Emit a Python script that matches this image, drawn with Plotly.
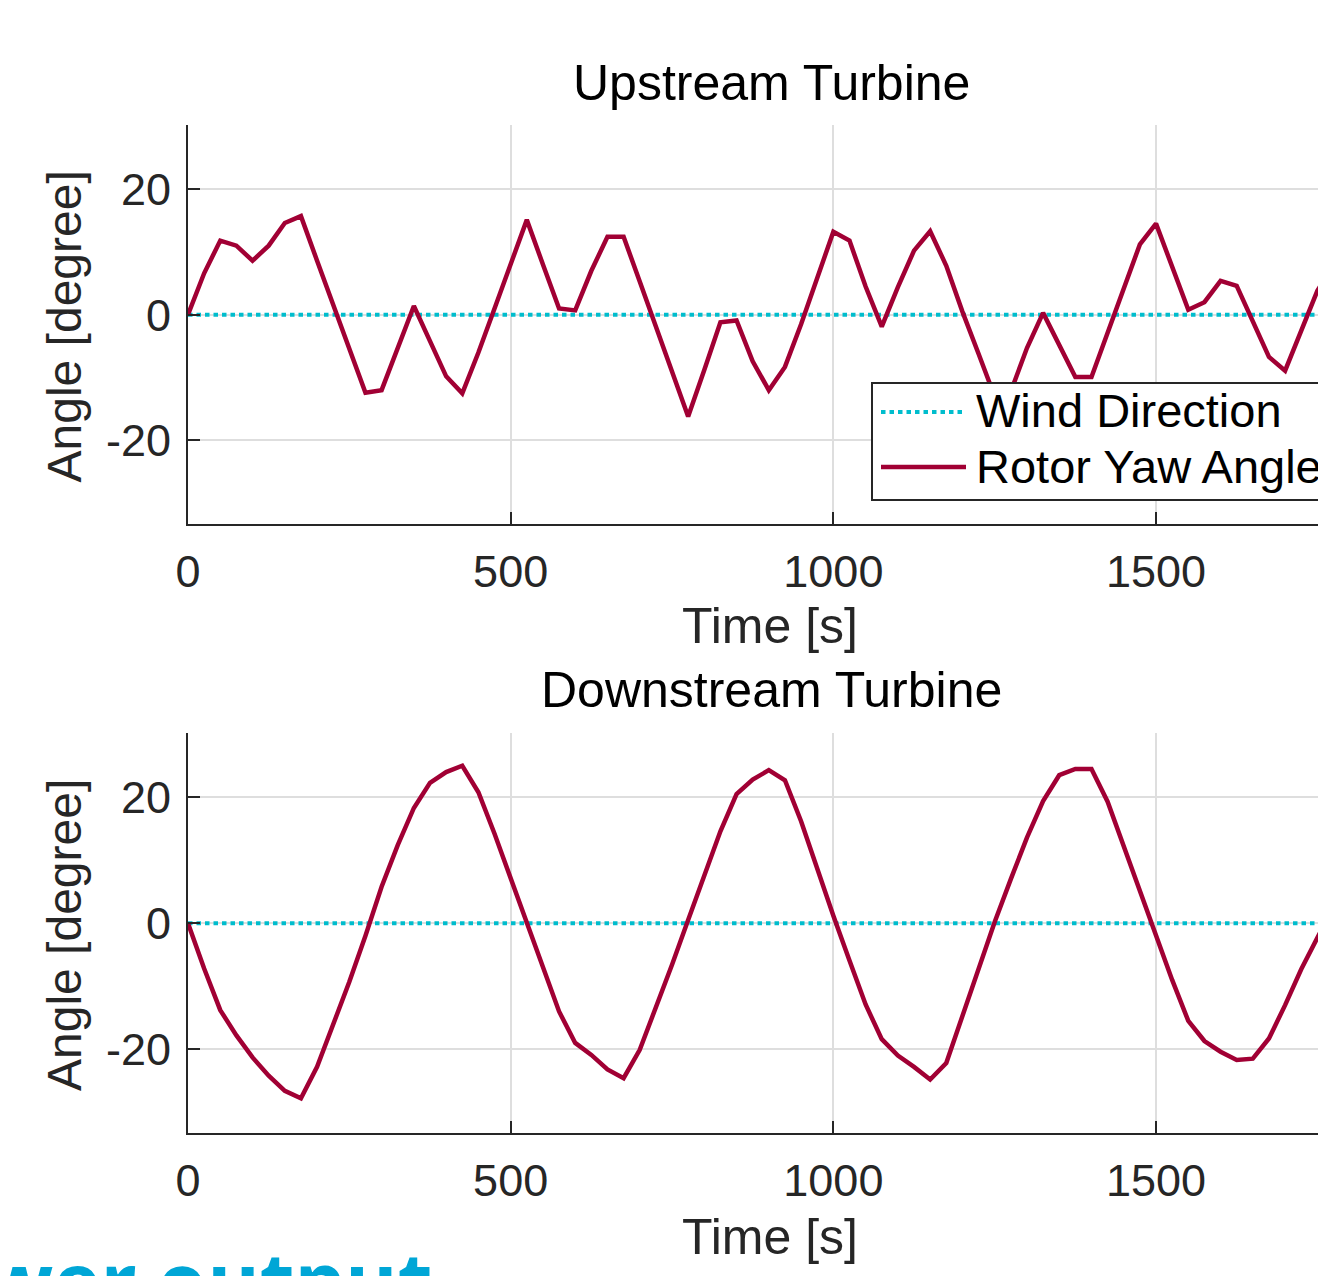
import plotly.graph_objects as go

# ---------------- data ----------------
time_s = [0, 25, 50, 75, 100, 125, 150, 175,
          200, 225, 250, 275, 300, 325, 350, 375,
          400, 425, 450, 475, 500, 525, 550, 575,
          600, 625, 650, 675, 700, 725, 750, 775,
          800, 825, 850, 875, 900, 925, 950, 975,
          1000, 1025, 1050, 1075, 1100, 1125, 1150, 1175,
          1200, 1225, 1250, 1275, 1300, 1325, 1350, 1375,
          1400, 1425, 1450, 1475, 1500, 1525, 1550, 1575,
          1600, 1625, 1650, 1675, 1700, 1725, 1750, 1775]

wind_direction = [0, 0, 0, 0, 0, 0, 0, 0,
                  0, 0, 0, 0, 0, 0, 0, 0,
                  0, 0, 0, 0, 0, 0, 0, 0,
                  0, 0, 0, 0, 0, 0, 0, 0,
                  0, 0, 0, 0, 0, 0, 0, 0,
                  0, 0, 0, 0, 0, 0, 0, 0,
                  0, 0, 0, 0, 0, 0, 0, 0,
                  0, 0, 0, 0, 0, 0, 0, 0,
                  0, 0, 0, 0, 0, 0, 0, 0]

upstream_yaw = [0.0, 6.6, 11.8, 11.0, 8.6, 11.0, 14.6, 15.7,
                8.6, 1.6, -5.4, -12.4, -12.0, -5.4, 1.4, -4.2,
                -9.8, -12.5, -6.0, 1.0, 8.0, 15.1, 8.0, 1.0,
                0.7, 7.0, 12.4, 12.4, 5.3, -1.9, -9.0, -16.2,
                -8.8, -1.2, -0.9, -7.4, -12.0, -8.3, -1.5, 5.8,
                13.2, 11.8, 4.5, -1.9, 4.4, 10.2, 13.3, 7.8,
                0.5, -6.2, -13.0, -12.2, -5.3, 0.3, -5.0, -9.9,
                -9.9, -3.0, 4.1, 11.2, 14.5, 7.8, 0.8, 2.0,
                5.4, 4.6, -0.9, -6.7, -8.9, -2.5, 3.8, 8.0]

downstream_yaw = [0.0, -7.2, -13.8, -17.8, -21.3, -24.2, -26.6, -27.8,
                  -22.8, -16.2, -9.3, -2.0, 5.8, 12.4, 18.3, 22.3,
                  24.0, 25.0, 20.8, 14.2, 7.2, 0.2, -6.9, -14.0,
                  -19.0, -20.9, -23.2, -24.6, -20.1, -13.4, -6.6, 0.5,
                  7.6, 14.6, 20.5, 22.8, 24.3, 22.7, 16.2, 8.5,
                  1.2, -5.9, -12.9, -18.4, -21.0, -22.8, -24.8, -22.2,
                  -14.6, -7.0, 0.2, 7.0, 13.6, 19.4, 23.5, 24.5,
                  24.5, 19.3, 12.2, 5.1, -1.9, -9.0, -15.5, -18.7,
                  -20.4, -21.7, -21.5, -18.3, -13.0, -7.3, -2.3, 2.5]

x_ticks = [0, 500, 1000, 1500]
x_tick_labels = ["0", "500", "1000", "1500"]
y_ticks = [-20, 0, 20]
y_tick_labels = ["-20", "0", "20"]
panel_titles = ["Upstream Turbine", "Downstream Turbine"]
series_names = ["Wind Direction", "Rotor Yaw Angle"]
x_label = "Time [s]"
y_label = "Angle [degree]"
footer_text = "Power output"

# ---------------- styling ----------------
W, H = 1318, 1276
ML = 188
PW = W - ML
FONT = "Liberation Sans, Arial, Helvetica, sans-serif"
AX = "#262626"
GRID = "#DEDEDE"
CYAN = "#00BDCD"
RED = "#A10034"


def px_x(px):
    return (px - ML) / PW


def px_y(py):
    return 1 - py / H


fig = go.Figure()

panels = [("x", "y", 125, 524), ("x2", "y2", 733, 1133)]
data_sets = [upstream_yaw, downstream_yaw]

for (xa, ya, top, bot), yaw in zip(panels, data_sets):
    fig.add_trace(go.Scatter(x=time_s, y=wind_direction, mode="lines",
                             name=series_names[0], xaxis=xa, yaxis=ya,
                             line=dict(color=CYAN, width=4, dash="4.5px,4px"),
                             showlegend=False, hoverinfo="skip"))
    fig.add_trace(go.Scatter(x=time_s, y=yaw, mode="lines",
                             name=series_names[1], xaxis=xa, yaxis=ya,
                             line=dict(color=RED, width=4.5),
                             showlegend=False))

axis_common = dict(showline=True, linecolor=AX, linewidth=2, mirror=False,
                   ticks="inside", ticklen=12, tickwidth=2, tickcolor=AX,
                   showgrid=True, gridcolor=GRID, gridwidth=2, zeroline=False,
                   tickfont=dict(family=FONT, size=45, color=AX))

layout = dict(width=W, height=H, margin=dict(l=ML, r=0, t=0, b=0, autoexpand=False),
              paper_bgcolor="white", plot_bgcolor="white", showlegend=False)

for i, (xa, ya, top, bot) in enumerate(panels):
    xk = "xaxis" if i == 0 else "xaxis2"
    yk = "yaxis" if i == 0 else "yaxis2"
    layout[xk] = dict(axis_common, domain=[0, 1], range=[0, 1751],
                      tickvals=x_ticks, ticktext=x_tick_labels,
                      ticklabelstandoff=7, anchor=ya)
    layout[yk] = dict(axis_common, domain=[px_y(bot), px_y(top)],
                      range=[-33.3, 30.2], tickvals=y_ticks,
                      ticktext=y_tick_labels,
                      ticklabelstandoff=6, anchor=xa)

fig.update_layout(**layout)

annotations = []
title_y = [83, 690]
xlabel_y = [626, 1237]
for i, (xa, ya, top, bot) in enumerate(panels):
    annotations.append(dict(text=panel_titles[i], xref="paper", yref="paper",
                            x=px_x(771), y=px_y(title_y[i]), xanchor="center",
                            yanchor="middle", showarrow=False,
                            font=dict(family=FONT, size=50, color="black")))
    annotations.append(dict(text=x_label, xref="paper", yref="paper",
                            x=px_x(770), y=px_y(xlabel_y[i]), xanchor="center",
                            yanchor="middle", showarrow=False,
                            font=dict(family=FONT, size=50, color=AX)))
    annotations.append(dict(text=y_label, xref="paper", yref="paper",
                            x=px_x(64), y=px_y((top + bot) / 2 + 2), xanchor="center",
                            yanchor="middle", textangle=-90, showarrow=False,
                            font=dict(family=FONT, size=48, color=AX)))

# legend box of the upper panel
shapes = [
    dict(type="rect", xref="paper", yref="paper",
         x0=px_x(872), x1=px_x(1346), y0=px_y(500), y1=px_y(383),
         line=dict(color=AX, width=2), fillcolor="white", layer="above"),
    dict(type="line", xref="paper", yref="paper",
         x0=px_x(881), x1=px_x(963), y0=px_y(412), y1=px_y(412),
         line=dict(color=CYAN, width=4, dash="4.5px,4px"), layer="above"),
    dict(type="line", xref="paper", yref="paper",
         x0=px_x(881), x1=px_x(966), y0=px_y(467), y1=px_y(467),
         line=dict(color=RED, width=4.5), layer="above"),
]
for txt, yy in zip(series_names, [410, 466]):
    annotations.append(dict(text=txt, xref="paper", yref="paper",
                            x=px_x(974), y=px_y(yy), xanchor="left",
                            yanchor="middle", showarrow=False,
                            font=dict(family=FONT, size=47, color="black")))

# slide heading cut off by the bottom edge
annotations.append(dict(text="<b>" + footer_text + "</b>", xref="paper", yref="paper",
                        x=px_x(-117), y=px_y(1280), xanchor="left",
                        yanchor="middle", showarrow=False,
                        font=dict(family="Open Sans, sans-serif", size=80,
                                  color="#00A6D6")))

fig.update_layout(annotations=annotations, shapes=shapes)

fig.write_html("out.html")
